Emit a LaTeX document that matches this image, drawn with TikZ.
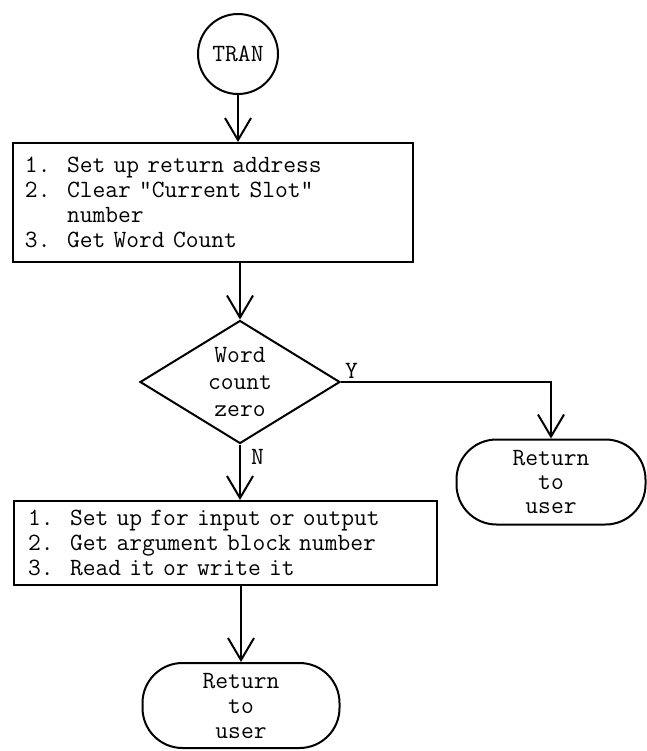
\documentclass[tikz,border=0pt]{standalone}
\usepackage{fontspec}
\usetikzlibrary{shapes.geometric,arrows.meta}
\begin{document}
\begin{tikzpicture}[x=0.5pt,y=-0.5pt,
  font=\ttfamily\fontsize{12.4}{12.5}\selectfont,
  every node/.style={line width=1pt},
  flow/.style={line width=1pt,-{Straight Barb[length=11pt,width=13pt,line width=1pt]}},
  stepbox/.style={draw,rectangle,align=left,inner ysep=0pt},
  exitbox/.style={draw,rectangle,rounded corners=20pt,align=center,minimum height=42.5pt,inner sep=0pt}]
\useasboundingbox (0,0) rectangle (647,751);
\node[draw,circle,minimum size=40pt,inner sep=0pt] (tran) at (238,54) {TRAN};
\node[stepbox,inner xsep=6pt,text width=188pt,minimum height=59.5pt] (box1) at (213,202.5)
  {1.~~Set up return address\\2.~~Clear "Current Slot"\\\phantom{2.~~}number\\3.~~Get Word Count};
\node[draw,diamond,aspect=1.6,inner sep=0pt,minimum width=100pt,minimum height=61.5pt,
  align=center,font=\ttfamily\fontsize{12.4}{13.5}\selectfont] (dia) at (240,382) {Word\\count\\zero};
\node[exitbox,minimum width=94.5pt,font=\ttfamily\fontsize{12.4}{12}\selectfont] (ret1) at (551,482) {Return\\to\\user};
\node[stepbox,inner xsep=7pt,text width=197.5pt,minimum height=42pt] (box2) at (225.5,543)
  {1.~~Set up for input or output\\2.~~Get argument block number\\3.~~Read it or write it};
\node[exitbox,minimum width=98.5pt] (ret2) at (241,705.5) {Return\\to\\user};
\draw[flow] (tran.south) -- (tran.south |- box1.north);
\draw[flow] (box1.south -| dia.north) -- (dia.north);
\draw[flow] (dia.east) -| (ret1.north);
\draw[flow] (dia.south) -- (dia.south |- box2.north);
\draw[flow] (box2.south -| ret2.north) -- (ret2.north);
\node[anchor=south west,inner sep=1.5pt] (ylab) at (dia.east) {Y};
\node[anchor=north west,inner sep=2pt,xshift=3pt] (nlab) at (dia.south) {N};
\end{tikzpicture}
\end{document}
